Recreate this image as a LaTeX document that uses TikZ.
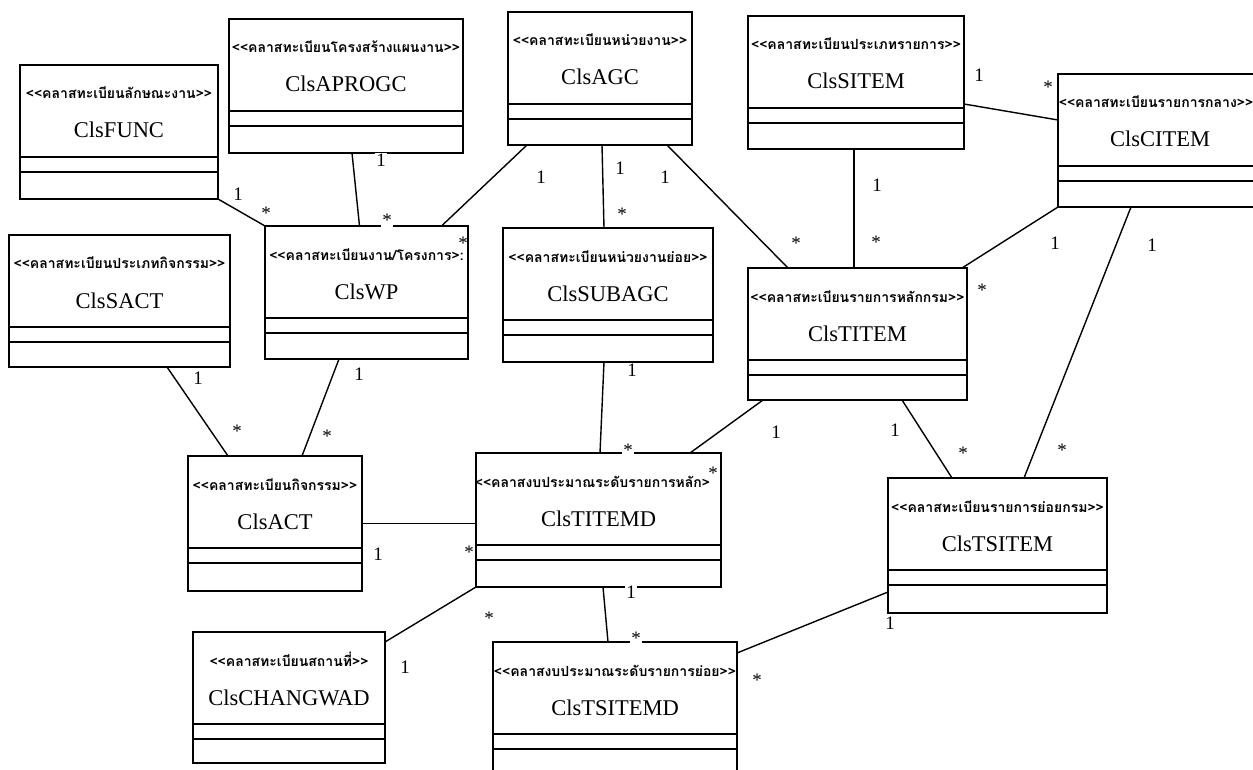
\documentclass[tikz,border=0pt]{standalone}
\usepackage{fontspec}
\setmainfont{Liberation Serif}
\newfontfamily\thaifont[Script=Thai]{Loma}
\usetikzlibrary{calc}
\tikzset{
  classbox/.style={draw, line width=1.4pt, inner sep=0pt, outer sep=0pt, anchor=north west},
  compline/.style={line width=1.4pt},
  stereo/.style={font=\thaifont\bfseries\fontsize{14}{16}\selectfont, inner sep=0pt, anchor=base},
  cname/.style={font=\fontsize{22.5}{24}\selectfont, inner sep=0pt, anchor=base},
  conn/.style={line width=1.4pt},
  mult/.style={font=\fontsize{19}{20}\selectfont, inner sep=0.8pt, anchor=base},
  gap/.style={fill=white},
}
% [#1 stereotype x offset] #2 name, #3 x1, #4 y1, #5 x2, #6 y2, #7 stereotype, #8 class name
\newcommand\umlclass[8][0]{%
  \node[classbox, minimum width={#5pt-#3pt}, minimum height={#6pt-#4pt}] (#2) at (#3,#4) {};
  \draw[compline] (#3,{#4+92}) -- (#5,{#4+92}) (#3,{#4+107}) -- (#5,{#4+107});
  \node[stereo] (#2-st) at ({(#3+#5)/2+#1},{#4+34}) {#7};
  \node[cname] (#2-nm) at ({(#3+#5)/2},{#4+73}) {#8};
}
% multiplicity labels: [#1 extra style] #2 name, #3 base position
\newcommand\multone[4][]{\node[mult,#1] (#2) at #3 {1};}
\newcommand\multmany[4][]{\node[mult,#1] (#2) at #3 {*};}
\begin{document}
\begin{tikzpicture}[x=1pt,y=-1pt]
\useasboundingbox (0,0) rectangle (1253,770);
\clip (0,0) rectangle (1253,770);
\fill[white] (0,0) rectangle (1253,770);

\umlclass{func}{20}{65}{218}{199}{<<คลาสทะเบียนลักษณะงาน>>}{ClsFUNC}
\umlclass{aprogc}{229}{19}{463}{153}{<<คลาสทะเบียนโครงสร้างแผนงาน>>}{ClsAPROGC}
\umlclass{agc}{508}{12}{692}{145}{<<คลาสทะเบียนหน่วยงาน>>}{ClsAGC}
\umlclass{sitem}{748}{16}{964}{149}{<<คลาสทะเบียนประเภทรายการ>>}{ClsSITEM}
\umlclass[-4]{citem}{1058}{74}{1262}{207}{<<คลาสทะเบียนรายการกลาง>>}{ClsCITEM}
\umlclass{sact}{9}{235}{230}{367}{<<คลาสทะเบียนประเภทกิจกรรม>>}{ClsSACT}
\umlclass{wp}{265}{226}{468}{359}{<<คลาสทะเบียนงาน/โครงการ>:}{ClsWP}
\umlclass{subagc}{503}{228}{713}{362}{<<คลาสทะเบียนหน่วยงานย่อย>>}{ClsSUBAGC}
\umlclass{titem}{748}{268}{967}{400}{<<คลาสทะเบียนรายการหลักกรม>>}{ClsTITEM}
\umlclass{act}{188}{456}{362}{591}{<<คลาสทะเบียนกิจกรรม>>}{ClsACT}
\umlclass[-6]{titemd}{476}{453}{721}{587}{<<คลาสงบประมาณระดับรายการหลัก>}{ClsTITEMD}
\umlclass{tsitem}{888}{478}{1107}{613}{<<คลาสทะเบียนรายการย่อยกรม>>}{ClsTSITEM}
\umlclass{changwad}{193}{632}{385}{763}{<<คลาสทะเบียนสถานที่>>}{ClsCHANGWAD}
\umlclass{tsitemd}{493}{642}{737}{780}{<<คลาสงบประมาณระดับรายการย่อย>>}{ClsTSITEMD}

% connectors
\draw[conn] (func.south east) -- (wp.north west);
\draw[conn] ([xshift=6pt]aprogc.south) -- ([xshift=-7pt]wp.north);
\draw[conn] ([xshift=-73pt]agc.south) -- ([xshift=75pt]wp.north);
\draw[conn] ([xshift=2pt]agc.south) -- ([xshift=-4pt]subagc.north);
\draw[conn] ([xshift=67pt]agc.south) -- ([xshift=-69.5pt]titem.north);
\draw[conn] ([xshift=-2pt]sitem.south) -- ([xshift=-3.5pt]titem.north);
\draw[conn] ([yshift=-21.5pt]sitem.east) -- ([yshift=20.5pt]citem.west);
\draw[conn] (citem.south west) -- ([xshift=-5pt]titem.north east);
\draw[conn] ([xshift=-29pt]citem.south) -- ([xshift=26.5pt]tsitem.north);
\draw[conn] ([xshift=44.5pt]titem.south) -- ([xshift=-45.5pt]tsitem.north);
\draw[conn] ([xshift=-94.5pt]titem.south) -- ([xshift=91.5pt]titemd.north);
\draw[conn] ([xshift=-4pt]subagc.south) -- ([xshift=1.5pt]titemd.north);
\draw[conn] ([xshift=47.5pt]sact.south) -- ([xshift=-47pt]act.north);
\draw[conn] ([xshift=-27.5pt]wp.south) -- ([xshift=27pt]act.north);
\draw[conn] (act.east) -- (act.east -| titemd.west);
\draw[conn] (titemd.south west) -- ([yshift=-10pt]changwad.north east);
\draw[conn] ([xshift=4.5pt]titemd.south) -- ([xshift=-7pt]tsitemd.north);
\draw[conn] ([yshift=-11pt]tsitemd.north east) -- ([yshift=-46.5pt]tsitem.west);

% multiplicities (base positions)
\multone{m1}{(238,200.5)}{}
\multmany{m2}{(266,220)}{}
\multone[gap]{m3}{(381,166.5)}{}
\multmany[gap]{m4}{(387,227)}{}
\multone{m5}{(541,183.5)}{}
\multmany{m6}{(463,249)}{}
\multone{m7}{(620,174.5)}{}
\multmany[gap]{m8}{(622,221)}{}
\multone{m9}{(665,183.5)}{}
\multmany{m10}{(796,250)}{}
\multone{m11}{(877,191.5)}{}
\multmany{m12}{(876,248)}{}
\multone{m13}{(979,81.5)}{}
\multmany{m14}{(1048,94)}{}
\multone{m15}{(1055,249.5)}{}
\multmany{m16}{(982,296)}{}
\multone{m17}{(1152,251.5)}{}
\multmany{m18}{(1062,456)}{}
\multone{m19}{(895,436.5)}{}
\multmany{m20}{(963,459)}{}
\multone{m21}{(776,438.5)}{}
\multmany{m22}{(713,479)}{}
\multone[gap]{m23}{(632,376.5)}{}
\multmany[gap]{m24}{(628,456)}{}
\multone[gap]{m25}{(198,384.5)}{}
\multmany{m26}{(237,437)}{}
\multone[gap]{m27}{(359,380.5)}{}
\multmany{m28}{(327,442)}{}
\multone{m29}{(378,560.5)}{}
\multmany{m30}{(469,558)}{}
\multone{m31}{(405,673.5)}{}
\multmany{m32}{(489,624)}{}
\multone[gap]{m33}{(631,598.5)}{}
\multmany[gap]{m34}{(636,644)}{}
\multmany{m35}{(757,686)}{}
\multone[gap]{m36}{(890,629.5)}{}
\end{tikzpicture}
\end{document}
